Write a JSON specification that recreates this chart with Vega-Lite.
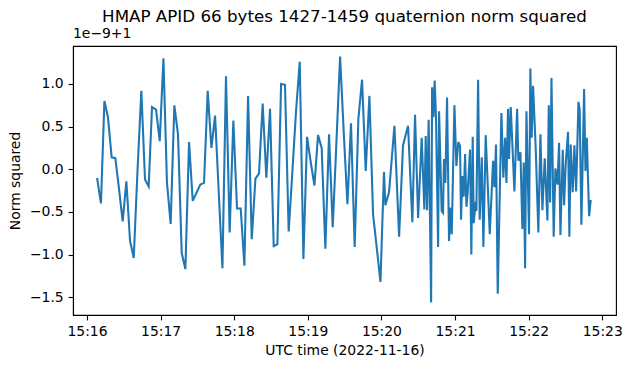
{
  "$schema": "https://vega.github.io/schema/vega-lite/v6.json",
  "width": 543,
  "height": 269,
  "autosize": {"type": "none"},
  "padding": {"left": 73, "top": 46, "right": 15, "bottom": 53},
  "background": "white",
  "title": {
    "text": "HMAP APID 66 bytes 1427-1459 quaternion norm squared",
    "fontSize": 16.7,
    "fontWeight": "normal",
    "font": "DejaVu Sans",
    "color": "black",
    "anchor": "middle",
    "baseline": "alphabetic",
    "offset": -12
  },
  "datasets": {
    "series": [
      {"t": "2022-11-16T15:16:08.2Z", "v": -0.10},
      {"t": "2022-11-16T15:16:11.4Z", "v": -0.40},
      {"t": "2022-11-16T15:16:14.2Z", "v": 0.80},
      {"t": "2022-11-16T15:16:17.1Z", "v": 0.61},
      {"t": "2022-11-16T15:16:20.1Z", "v": 0.14},
      {"t": "2022-11-16T15:16:23.1Z", "v": 0.13},
      {"t": "2022-11-16T15:16:26.1Z", "v": -0.23},
      {"t": "2022-11-16T15:16:29.1Z", "v": -0.61},
      {"t": "2022-11-16T15:16:32.1Z", "v": -0.14},
      {"t": "2022-11-16T15:16:35.1Z", "v": -0.84},
      {"t": "2022-11-16T15:16:38.1Z", "v": -1.04},
      {"t": "2022-11-16T15:16:41.1Z", "v": -0.04},
      {"t": "2022-11-16T15:16:44.3Z", "v": 0.92},
      {"t": "2022-11-16T15:16:47.3Z", "v": -0.12},
      {"t": "2022-11-16T15:16:50.3Z", "v": -0.20},
      {"t": "2022-11-16T15:16:53.0Z", "v": 0.73},
      {"t": "2022-11-16T15:16:56.3Z", "v": 0.70},
      {"t": "2022-11-16T15:16:59.3Z", "v": 0.33},
      {"t": "2022-11-16T15:17:02.3Z", "v": 1.30},
      {"t": "2022-11-16T15:17:05.2Z", "v": -0.16},
      {"t": "2022-11-16T15:17:08.2Z", "v": -0.64},
      {"t": "2022-11-16T15:17:11.2Z", "v": 0.75},
      {"t": "2022-11-16T15:17:14.2Z", "v": 0.41},
      {"t": "2022-11-16T15:17:17.2Z", "v": -0.98},
      {"t": "2022-11-16T15:17:20.2Z", "v": -1.17},
      {"t": "2022-11-16T15:17:23.2Z", "v": 0.32},
      {"t": "2022-11-16T15:17:26.2Z", "v": -0.37},
      {"t": "2022-11-16T15:17:29.4Z", "v": -0.27},
      {"t": "2022-11-16T15:17:32.4Z", "v": -0.18},
      {"t": "2022-11-16T15:17:35.4Z", "v": -0.16},
      {"t": "2022-11-16T15:17:38.4Z", "v": 0.92},
      {"t": "2022-11-16T15:17:41.4Z", "v": 0.25},
      {"t": "2022-11-16T15:17:44.4Z", "v": 0.63},
      {"t": "2022-11-16T15:17:47.4Z", "v": -0.27},
      {"t": "2022-11-16T15:17:50.4Z", "v": -1.16},
      {"t": "2022-11-16T15:17:53.3Z", "v": 1.09},
      {"t": "2022-11-16T15:17:56.3Z", "v": -0.74},
      {"t": "2022-11-16T15:17:59.3Z", "v": 0.57},
      {"t": "2022-11-16T15:18:02.3Z", "v": -0.46},
      {"t": "2022-11-16T15:18:05.3Z", "v": -0.46},
      {"t": "2022-11-16T15:18:08.3Z", "v": -1.13},
      {"t": "2022-11-16T15:18:11.3Z", "v": 0.86},
      {"t": "2022-11-16T15:18:14.3Z", "v": -0.82},
      {"t": "2022-11-16T15:18:17.3Z", "v": -0.11},
      {"t": "2022-11-16T15:18:20.2Z", "v": -0.05},
      {"t": "2022-11-16T15:18:23.2Z", "v": 0.77},
      {"t": "2022-11-16T15:18:26.2Z", "v": -0.10},
      {"t": "2022-11-16T15:18:29.2Z", "v": 0.71},
      {"t": "2022-11-16T15:18:32.2Z", "v": -0.90},
      {"t": "2022-11-16T15:18:35.2Z", "v": -0.88},
      {"t": "2022-11-16T15:18:38.2Z", "v": 1.00},
      {"t": "2022-11-16T15:18:41.4Z", "v": 0.99},
      {"t": "2022-11-16T15:18:44.4Z", "v": -0.73},
      {"t": "2022-11-16T15:18:47.4Z", "v": -0.03},
      {"t": "2022-11-16T15:18:50.4Z", "v": 0.68},
      {"t": "2022-11-16T15:18:53.4Z", "v": 1.26},
      {"t": "2022-11-16T15:18:56.4Z", "v": -1.05},
      {"t": "2022-11-16T15:18:59.4Z", "v": 0.38},
      {"t": "2022-11-16T15:19:02.4Z", "v": 0.08},
      {"t": "2022-11-16T15:19:05.4Z", "v": -0.19},
      {"t": "2022-11-16T15:19:08.3Z", "v": 0.40},
      {"t": "2022-11-16T15:19:11.3Z", "v": 0.25},
      {"t": "2022-11-16T15:19:14.3Z", "v": -0.93},
      {"t": "2022-11-16T15:19:17.3Z", "v": 0.41},
      {"t": "2022-11-16T15:19:20.3Z", "v": -0.68},
      {"t": "2022-11-16T15:19:23.3Z", "v": 0.31},
      {"t": "2022-11-16T15:19:26.3Z", "v": 1.32},
      {"t": "2022-11-16T15:19:29.3Z", "v": 0.43},
      {"t": "2022-11-16T15:19:32.3Z", "v": -0.41},
      {"t": "2022-11-16T15:19:35.2Z", "v": 0.54},
      {"t": "2022-11-16T15:19:38.2Z", "v": -0.91},
      {"t": "2022-11-16T15:19:41.2Z", "v": 0.59},
      {"t": "2022-11-16T15:19:44.2Z", "v": 1.05},
      {"t": "2022-11-16T15:19:47.2Z", "v": -0.02},
      {"t": "2022-11-16T15:19:50.2Z", "v": 0.86},
      {"t": "2022-11-16T15:19:53.2Z", "v": -0.53},
      {"t": "2022-11-16T15:19:56.2Z", "v": -0.92},
      {"t": "2022-11-16T15:19:59.2Z", "v": -1.32},
      {"t": "2022-11-16T15:20:02.1Z", "v": -0.03},
      {"t": "2022-11-16T15:20:03.2Z", "v": -0.42},
      {"t": "2022-11-16T15:20:06.2Z", "v": -0.27},
      {"t": "2022-11-16T15:20:10.6Z", "v": 0.51},
      {"t": "2022-11-16T15:20:14.4Z", "v": -0.79},
      {"t": "2022-11-16T15:20:17.6Z", "v": 0.28},
      {"t": "2022-11-16T15:20:21.7Z", "v": 0.51},
      {"t": "2022-11-16T15:20:25.2Z", "v": -0.62},
      {"t": "2022-11-16T15:20:27.4Z", "v": 0.64},
      {"t": "2022-11-16T15:20:29.9Z", "v": -0.57},
      {"t": "2022-11-16T15:20:32.8Z", "v": 0.37},
      {"t": "2022-11-16T15:20:35.0Z", "v": -0.47},
      {"t": "2022-11-16T15:20:36.1Z", "v": 0.39},
      {"t": "2022-11-16T15:20:37.2Z", "v": -0.48},
      {"t": "2022-11-16T15:20:38.5Z", "v": 0.58},
      {"t": "2022-11-16T15:20:40.5Z", "v": -1.56},
      {"t": "2022-11-16T15:20:41.3Z", "v": 0.96},
      {"t": "2022-11-16T15:20:42.4Z", "v": 0.61},
      {"t": "2022-11-16T15:20:43.4Z", "v": 1.04},
      {"t": "2022-11-16T15:20:44.5Z", "v": 0.60},
      {"t": "2022-11-16T15:20:46.2Z", "v": -0.91},
      {"t": "2022-11-16T15:20:47.0Z", "v": 0.68},
      {"t": "2022-11-16T15:20:49.1Z", "v": -0.49},
      {"t": "2022-11-16T15:20:50.2Z", "v": -0.51},
      {"t": "2022-11-16T15:20:51.0Z", "v": 0.12},
      {"t": "2022-11-16T15:20:52.1Z", "v": -0.16},
      {"t": "2022-11-16T15:20:53.5Z", "v": 0.84},
      {"t": "2022-11-16T15:20:55.1Z", "v": -0.84},
      {"t": "2022-11-16T15:20:56.5Z", "v": -0.45},
      {"t": "2022-11-16T15:20:57.3Z", "v": -0.76},
      {"t": "2022-11-16T15:20:59.5Z", "v": 0.75},
      {"t": "2022-11-16T15:21:01.1Z", "v": 0.04},
      {"t": "2022-11-16T15:21:02.7Z", "v": 0.32},
      {"t": "2022-11-16T15:21:04.1Z", "v": 0.27},
      {"t": "2022-11-16T15:21:04.9Z", "v": -0.59},
      {"t": "2022-11-16T15:21:06.0Z", "v": -0.08},
      {"t": "2022-11-16T15:21:07.1Z", "v": -0.32},
      {"t": "2022-11-16T15:21:08.2Z", "v": 0.18},
      {"t": "2022-11-16T15:21:09.3Z", "v": -0.44},
      {"t": "2022-11-16T15:21:10.3Z", "v": -0.27},
      {"t": "2022-11-16T15:21:12.2Z", "v": 0.23},
      {"t": "2022-11-16T15:21:13.3Z", "v": -1.00},
      {"t": "2022-11-16T15:21:14.4Z", "v": 0.38},
      {"t": "2022-11-16T15:21:15.2Z", "v": -0.63},
      {"t": "2022-11-16T15:21:16.9Z", "v": -0.38},
      {"t": "2022-11-16T15:21:17.4Z", "v": -0.49},
      {"t": "2022-11-16T15:21:18.8Z", "v": 1.05},
      {"t": "2022-11-16T15:21:20.1Z", "v": -0.59},
      {"t": "2022-11-16T15:21:21.8Z", "v": 0.14},
      {"t": "2022-11-16T15:21:23.1Z", "v": -0.91},
      {"t": "2022-11-16T15:21:25.0Z", "v": 0.40},
      {"t": "2022-11-16T15:21:26.7Z", "v": -0.20},
      {"t": "2022-11-16T15:21:28.3Z", "v": -0.76},
      {"t": "2022-11-16T15:21:31.0Z", "v": 0.10},
      {"t": "2022-11-16T15:21:32.1Z", "v": -0.21},
      {"t": "2022-11-16T15:21:33.4Z", "v": 0.29},
      {"t": "2022-11-16T15:21:34.8Z", "v": -1.46},
      {"t": "2022-11-16T15:21:37.8Z", "v": 0.66},
      {"t": "2022-11-16T15:21:39.4Z", "v": -0.10},
      {"t": "2022-11-16T15:21:40.8Z", "v": 0.37},
      {"t": "2022-11-16T15:21:41.9Z", "v": -0.16},
      {"t": "2022-11-16T15:21:43.2Z", "v": 0.71},
      {"t": "2022-11-16T15:21:44.0Z", "v": 0.12},
      {"t": "2022-11-16T15:21:45.4Z", "v": 0.73},
      {"t": "2022-11-16T15:21:48.4Z", "v": -0.26},
      {"t": "2022-11-16T15:21:50.6Z", "v": 0.71},
      {"t": "2022-11-16T15:21:51.6Z", "v": 0.10},
      {"t": "2022-11-16T15:21:53.3Z", "v": 0.20},
      {"t": "2022-11-16T15:21:54.9Z", "v": -0.70},
      {"t": "2022-11-16T15:21:56.0Z", "v": 0.08},
      {"t": "2022-11-16T15:21:57.1Z", "v": -1.16},
      {"t": "2022-11-16T15:21:58.2Z", "v": 0.68},
      {"t": "2022-11-16T15:22:00.3Z", "v": -0.76},
      {"t": "2022-11-16T15:22:01.4Z", "v": 1.18},
      {"t": "2022-11-16T15:22:02.5Z", "v": 0.37},
      {"t": "2022-11-16T15:22:03.6Z", "v": 0.98},
      {"t": "2022-11-16T15:22:05.8Z", "v": 0.23},
      {"t": "2022-11-16T15:22:07.9Z", "v": -0.74},
      {"t": "2022-11-16T15:22:09.6Z", "v": 0.41},
      {"t": "2022-11-16T15:22:11.2Z", "v": -0.48},
      {"t": "2022-11-16T15:22:13.1Z", "v": 0.13},
      {"t": "2022-11-16T15:22:15.3Z", "v": -0.60},
      {"t": "2022-11-16T15:22:16.4Z", "v": 0.75},
      {"t": "2022-11-16T15:22:17.5Z", "v": -0.39},
      {"t": "2022-11-16T15:22:18.6Z", "v": 1.07},
      {"t": "2022-11-16T15:22:20.4Z", "v": -0.79},
      {"t": "2022-11-16T15:22:21.8Z", "v": 0.01},
      {"t": "2022-11-16T15:22:23.5Z", "v": -0.18},
      {"t": "2022-11-16T15:22:24.8Z", "v": 0.31},
      {"t": "2022-11-16T15:22:25.9Z", "v": -0.77},
      {"t": "2022-11-16T15:22:27.8Z", "v": 0.23},
      {"t": "2022-11-16T15:22:28.9Z", "v": -0.42},
      {"t": "2022-11-16T15:22:30.2Z", "v": 0.06},
      {"t": "2022-11-16T15:22:32.1Z", "v": 0.44},
      {"t": "2022-11-16T15:22:33.2Z", "v": -0.79},
      {"t": "2022-11-16T15:22:34.3Z", "v": 0.29},
      {"t": "2022-11-16T15:22:35.9Z", "v": -0.27},
      {"t": "2022-11-16T15:22:37.3Z", "v": 0.28},
      {"t": "2022-11-16T15:22:38.7Z", "v": -0.26},
      {"t": "2022-11-16T15:22:40.6Z", "v": 0.79},
      {"t": "2022-11-16T15:22:41.6Z", "v": 0.70},
      {"t": "2022-11-16T15:22:43.0Z", "v": -0.65},
      {"t": "2022-11-16T15:22:45.2Z", "v": 0.94},
      {"t": "2022-11-16T15:22:46.3Z", "v": -0.02},
      {"t": "2022-11-16T15:22:47.4Z", "v": 0.37},
      {"t": "2022-11-16T15:22:49.3Z", "v": -0.55},
      {"t": "2022-11-16T15:22:50.6Z", "v": -0.36}
    ],
    "offsetLabel": [{"label": "1e−9+1"}]
  },
  "layer": [
    {
      "data": {"name": "series"},
      "mark": {"type": "line", "color": "#1f77b4", "strokeWidth": 2.08, "clip": true},
      "encoding": {
        "x": {
          "field": "t",
          "type": "temporal",
          "scale": {
            "type": "utc",
            "domain": [
              {"year": 2022, "month": 11, "date": 16, "hours": 15, "minutes": 15, "seconds": 48, "milliseconds": 600, "utc": true},
              {"year": 2022, "month": 11, "date": 16, "hours": 15, "minutes": 23, "seconds": 11, "milliseconds": 200, "utc": true}
            ]
          },
          "axis": {
            "title": "UTC time (2022-11-16)",
            "format": "%H:%M",
            "values": [
              {"year": 2022, "month": 11, "date": 16, "hours": 15, "minutes": 16, "utc": true},
              {"year": 2022, "month": 11, "date": 16, "hours": 15, "minutes": 17, "utc": true},
              {"year": 2022, "month": 11, "date": 16, "hours": 15, "minutes": 18, "utc": true},
              {"year": 2022, "month": 11, "date": 16, "hours": 15, "minutes": 19, "utc": true},
              {"year": 2022, "month": 11, "date": 16, "hours": 15, "minutes": 20, "utc": true},
              {"year": 2022, "month": 11, "date": 16, "hours": 15, "minutes": 21, "utc": true},
              {"year": 2022, "month": 11, "date": 16, "hours": 15, "minutes": 22, "utc": true},
              {"year": 2022, "month": 11, "date": 16, "hours": 15, "minutes": 23, "utc": true}
            ],
            "titlePadding": 5
          }
        },
        "y": {
          "field": "v",
          "type": "quantitative",
          "scale": {"domain": [-1.708, 1.445], "nice": false, "zero": false},
          "axis": {
            "title": "Norm squared",
            "values": [-1.5, -1.0, -0.5, 0.0, 0.5, 1.0],
            "format": ".1f",
            "titlePadding": 7
          }
        }
      }
    },
    {
      "data": {"name": "offsetLabel"},
      "mark": {"type": "text", "align": "left", "baseline": "alphabetic", "dy": -8, "fontSize": 13.9, "font": "DejaVu Sans", "color": "black"},
      "encoding": {
        "text": {"field": "label", "type": "nominal"},
        "x": {"datum": {"year": 2022, "month": 11, "date": 16, "hours": 15, "minutes": 15, "seconds": 48, "milliseconds": 600, "utc": true}, "type": "temporal"},
        "y": {"datum": 1.445, "type": "quantitative"}
      }
    }
  ],
  "config": {
    "font": "DejaVu Sans",
    "view": {"stroke": "black", "strokeWidth": 1.1},
    "axis": {
      "grid": false,
      "labelFont": "DejaVu Sans",
      "titleFont": "DejaVu Sans",
      "labelFontSize": 13.9,
      "titleFontSize": 13.9,
      "titleFontWeight": "normal",
      "labelColor": "black",
      "titleColor": "black",
      "tickColor": "black",
      "domainColor": "black",
      "tickSize": 4.9,
      "tickWidth": 1.1,
      "domainWidth": 1.1,
      "labelPadding": 4.9,
      "labelFlush": false,
      "labelOverlap": false
    }
  }
}
